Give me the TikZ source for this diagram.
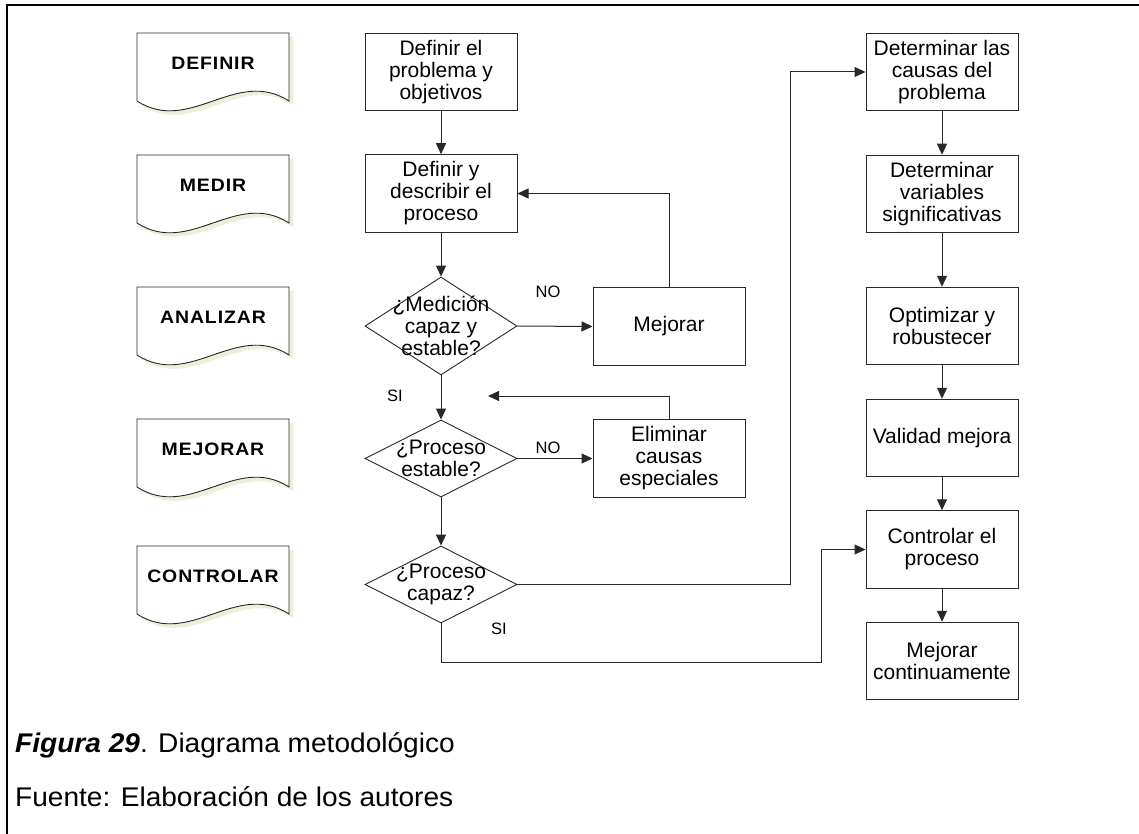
\documentclass[tikz,border=0pt]{standalone}
\usepackage{fontspec}
\setmainfont{Liberation Sans}
\newfontfamily\bxfont{Liberation Sans}
\newfontfamily\lbfont[FakeStretch=1.08,LetterSpace=5]{Liberation Sans}
\newfontfamily\tgfont{Liberation Sans}
\newfontfamily\cpfont[FakeStretch=1.04]{Liberation Sans}
\usetikzlibrary{arrows.meta,shapes.geometric}

\definecolor{docshadow}{RGB}{236,239,218}
\definecolor{edge}{RGB}{40,40,40}

\tikzset{
  stepbox/.style={draw=edge, line width=1pt, minimum width=152pt, minimum height=77.5pt,
    inner sep=0pt, align=center, font=\bxfont\fontsize{21pt}{22pt}\selectfont},
  decision/.style={diamond, draw=edge, line width=0.9pt, minimum width=152pt, inner sep=0pt},
  qtext/.style={align=center, inner sep=0pt, font=\bxfont\fontsize{21pt}{22pt}\selectfont},
  flow/.style={draw=edge, line width=1pt, -{Triangle[length=11pt,width=10pt]}},
  phase/.style={inner sep=0pt, font=\lbfont\bfseries\fontsize{18pt}{20pt}\selectfont},
  tag/.style={inner sep=0pt, font=\tgfont\fontsize{16.5pt}{18pt}\selectfont},
  figcap/.style={anchor=west, inner sep=0pt, font=\cpfont\fontsize{27pt}{32pt}\selectfont},
}

% phase marker: document shape with a wavy lower edge
\newcommand\phasedoc[3]{%
  \fill[docshadow, shift={(4,4)}] (137,#2) -- (289,#2) -- (289,#2+68)
    .. controls (236,#2+34) and (190,#2+102) .. (137,#2+68) -- cycle;
  \filldraw[fill=white, draw=edge, line width=0.9pt] (137,#2) -- (289,#2) -- (289,#2+68)
    .. controls (236,#2+34) and (190,#2+102) .. (137,#2+68) -- cycle;
  \node[phase] (#1) at (213,#2+30) {#3};
}

\begin{document}
\begin{tikzpicture}[x=1pt, y=-1pt]
\useasboundingbox (0,0) rectangle (1139,834);
\fill[white] (0,0) rectangle (1139,834);

% frame
\draw[line width=1.2pt, black] (7,834) -- (7,5) -- (1139,5);

% phases
\phasedoc{pdef}{33}{DEFINIR}
\phasedoc{pmed}{155}{MEDIR}
\phasedoc{pana}{287}{ANALIZAR}
\phasedoc{pmej}{419}{MEJORAR}
\phasedoc{pcon}{546}{CONTROLAR}

% central column
\node[stepbox] (defp) at (441,72) {Definir el\\problema y\\objetivos};
\node[stepbox] (desc) at (441,193.5) {Definir y\\describir el\\proceso};
\node[decision, minimum height=98pt] (q1) at (441,326) {};
\node[qtext] (q1t) at (441,326) {¿Medición\\capaz y\\estable?};
\node[decision, minimum height=77pt] (q2) at (441,458.5) {};
\node[qtext] (q2t) at (441,458.5) {¿Proceso\\estable?};
\node[decision, minimum height=77pt] (q3) at (441,584.5) {};
\node[qtext] (q3t) at (441,584.5) {¿Proceso\\capaz?};

% corrective steps
\node[stepbox] (mej) at (669,326.5) {Mejorar};
\node[stepbox] (elim) at (669,458.5) {Eliminar\\causas\\especiales};

% right column
\node[stepbox] (r1) at (942,72) {Determinar las\\causas del\\problema};
\node[stepbox] (r2) at (942,194) {Determinar\\variables\\significativas};
\node[stepbox] (r3) at (942,326) {Optimizar y\\robustecer};
\node[stepbox] (r4) at (942,438) {Validad mejora};
\node[stepbox] (r5) at (942,549.5) {Controlar el\\proceso};
\node[stepbox] (r6) at (942,661) {Mejorar\\continuamente};

% branch labels
\node[tag] (no1) at (548,292) {NO};
\node[tag] (si1) at (395,396) {SI};
\node[tag] (no2) at (548,448) {NO};
\node[tag] (si2) at (499,629) {SI};

% connectors
\draw[flow] (defp) -- (desc);
\draw[flow] (desc) -- (q1);
\draw[flow] (q1) -- (q2);
\draw[flow] (q2) -- (q3);
\draw[flow] (q1.east) -- (mej.west);
\draw[flow] (q2.east) -- (elim.west);
\draw[flow] (mej.north) |- (desc.east);
\coordinate (fb) at (488,396);
\draw[flow] (elim.north) |- (fb);
\coordinate (k1) at (790,584.5);
\draw[flow] (q3.east) -- (k1) |- (r1.west);
\coordinate (k2) at (821,662);
\draw[flow] (q3.south) |- (k2) |- (r5.west);
\draw[flow] (r1) -- (r2);
\draw[flow] (r2) -- (r3);
\draw[flow] (r3) -- (r4);
\draw[flow] (r4) -- (r5);
\draw[flow] (r5) -- (r6);

% caption
\node[figcap] (cap1) at (15,745) {{\bfseries\itshape Figura 29}. Diagrama metodológico};
\node[figcap] (cap2) at (15,797) {Fuente: Elaboración de los autores};
\end{tikzpicture}
\end{document}
